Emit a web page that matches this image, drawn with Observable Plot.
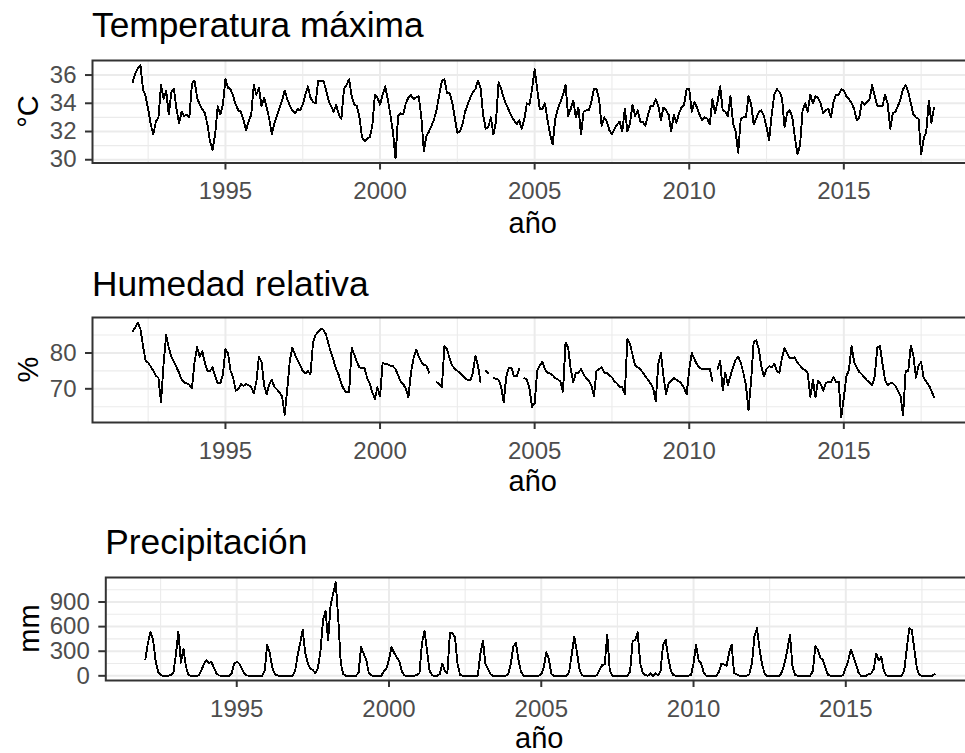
<!DOCTYPE html>
<html>
<head>
<meta charset="utf-8">
<script src="https://cdn.jsdelivr.net/npm/d3@7"></script>
<script src="https://cdn.jsdelivr.net/npm/@observablehq/plot@0.6"></script>
<style>
  html, body { margin: 0; padding: 0; background: #fff; overflow: hidden; }
  #root { position: relative; width: 965px; height: 753px; overflow: hidden; background: #fff; }
  #root svg { position: absolute; left: 0; max-width: none !important; }
</style>
</head>
<body>
<div id="root"></div>
<script>
// ---------------- data (monthly, Jan 1992 – Dec 2017) ----------------
const startYear = 1992;

const tempMax = [
  35.5, 36.1, 36.5, 36.7, 35.0, 34.5, 33.6, 32.5, 31.8, 32.7, 33.0, 35.3, // 1992
  34.3, 34.9, 33.2, 34.8, 35.0, 33.6, 32.6, 33.4, 33.1, 33.2, 33.0, 35.4, // 1993
  35.6, 34.4, 33.9, 33.6, 33.3, 32.5, 31.3, 30.7, 31.8, 33.8, 33.2, 33.9, // 1994
  35.7, 35.1, 35.0, 34.5, 33.9, 33.5, 33.4, 32.8, 32.1, 32.7, 33.2, 35.3, // 1995
  34.6, 35.1, 33.8, 34.4, 33.7, 32.9, 31.8, 32.6, 33.1, 33.7, 34.2, 34.9, // 1996
  34.3, 33.8, 33.5, 33.3, 33.6, 33.5, 33.9, 34.6, 35.2, 34.4, 34.1, 34.0, // 1997
  35.6, 35.6, 35.6, 35.0, 34.2, 33.8, 33.4, 33.9, 33.2, 32.9, 35.0, 35.3, // 1998
  35.7, 34.5, 33.9, 33.8, 33.0, 31.6, 31.3, 31.5, 31.6, 32.4, 34.6, 34.4, // 1999
  33.9, 34.6, 35.2, 34.3, 33.2, 32.0, 30.1, 33.1, 33.3, 33.2, 34.0, 34.4, // 2000
  34.6, 34.3, 34.4, 34.5, 33.1, 30.6, 31.7, 32.0, 32.4, 32.9, 33.6, 34.6, // 2001
  35.6, 35.7, 34.7, 34.7, 34.1, 33.0, 31.9, 32.0, 32.5, 33.4, 33.9, 34.4, // 2002
  34.8, 35.0, 35.6, 35.1, 33.2, 32.2, 32.3, 33.0, 31.8, 32.7, 35.5, 35.0, // 2003
  34.4, 33.9, 33.5, 33.1, 32.8, 32.5, 32.8, 32.2, 32.9, 34.0, 33.9, 35.0, // 2004
  36.4, 35.0, 33.6, 33.6, 34.0, 32.8, 31.8, 31.1, 32.9, 33.6, 34.1, 34.6, // 2005
  35.3, 33.1, 33.6, 34.2, 33.0, 33.7, 31.8, 33.4, 33.5, 33.5, 34.1, 35.0, // 2006
  35.0, 34.3, 32.4, 33.0, 32.7, 32.1, 31.8, 32.2, 32.5, 32.7, 32.0, 33.6, // 2007
  32.0, 32.6, 33.9, 33.1, 33.5, 32.7, 32.7, 32.4, 33.2, 33.8, 33.8, 34.3, // 2008
  33.8, 32.8, 33.7, 33.5, 33.2, 32.0, 33.2, 32.6, 33.3, 33.7, 33.9, 35.0, // 2009
  35.0, 33.4, 34.1, 33.7, 33.2, 32.8, 33.0, 32.9, 32.5, 34.3, 33.3, 34.1, // 2010
  35.2, 33.5, 33.4, 33.1, 34.5, 32.6, 32.0, 30.5, 32.9, 33.0, 33.0, 34.5, // 2011
  34.0, 32.5, 32.9, 33.4, 33.5, 33.1, 32.3, 31.4, 33.2, 34.6, 35.0, 34.8, // 2012
  34.4, 32.3, 33.3, 33.5, 33.0, 31.6, 30.4, 31.0, 33.5, 34.0, 33.4, 34.6, // 2013
  34.0, 34.5, 34.4, 34.0, 33.3, 33.5, 33.6, 33.0, 34.1, 34.6, 34.6, 35.0, // 2014
  34.9, 34.5, 34.3, 34.0, 33.6, 32.8, 33.0, 34.1, 33.9, 34.1, 34.3, 35.3, // 2015
  34.5, 33.8, 33.8, 33.8, 34.6, 34.0, 32.2, 33.3, 33.4, 33.8, 34.3, 35.0, // 2016
  35.3, 34.8, 34.0, 33.2, 33.0, 32.9, 30.4, 31.5, 32.0, 34.2, 32.6, 33.7  // 2017
];

const humedad = [
  86.1, 87.2, 88.5, 86.7, 82.0, 77.8, 77.3, 76.2, 75.0, 73.7, 73.0, 66.2, // 1992
  77.0, 85.0, 81.5, 79.0, 77.5, 76.0, 74.5, 72.5, 71.8, 71.5, 71.1, 70.2, // 1993
  77.5, 81.6, 79.0, 80.5, 77.3, 75.0, 75.0, 76.0, 73.5, 71.5, 71.5, 74.0, // 1994
  81.0, 80.0, 75.0, 73.0, 69.5, 70.0, 71.3, 70.8, 71.3, 71.0, 70.5, 68.8, // 1995
  72.0, 79.0, 77.5, 71.0, 68.5, 71.3, 72.5, 70.5, 69.8, 69.0, 67.8, 62.8, // 1996
  70.0, 78.0, 81.5, 79.5, 78.0, 76.5, 75.0, 74.3, 75.0, 74.0, 83.0, 85.0, // 1997
  86.0, 86.7, 86.5, 85.2, 82.5, 80.0, 77.8, 75.5, 73.8, 71.3, 69.8, 69.0, // 1998
  69.0, 81.5, 79.5, 77.5, 76.0, 75.8, 75.8, 73.0, 71.5, 69.0, 67.2, 70.4, // 1999
  67.8, 77.3, 76.8, 76.8, 76.5, 76.3, 75.5, 73.8, 72.0, 71.3, 70.0, 67.6, // 2000
  74.5, 78.5, 81.0, 79.0, 77.5, 76.6, 76.5, 74.5, null, null, 71.8, 71.3, // 2001
  70.4, 82.0, 81.0, 78.5, 76.5, 75.6, 75.0, 74.4, 73.8, 73.0, 72.5, 72.3, // 2002
  74.5, 79.2, 76.5, 71.8, null, 75.0, 74.3, null, 73.0, 72.8, 72.5, 70.5, // 2003
  66.3, 73.5, 75.8, 75.8, 73.5, 73.5, 75.5, null, 73.0, 72.6, 70.0, 65.0, // 2004
  66.0, 75.0, 76.5, 77.6, 75.5, 74.5, 74.3, 73.8, 73.0, 72.6, 72.0, 69.2, // 2005
  82.9, 81.5, 75.5, 71.8, 74.5, 74.5, 75.5, 74.0, 73.0, 72.3, 71.0, 68.0, // 2006
  75.0, 75.5, 76.0, 74.5, 74.5, 73.8, 73.2, 72.0, 71.5, 70.5, 70.5, 68.5, // 2007
  83.8, 82.5, 79.5, 76.5, 76.0, 75.5, 74.5, 73.5, 72.5, 71.5, 70.2, 66.5, // 2008
  77.0, 80.0, 73.5, 68.5, 71.5, 72.3, 73.0, 72.5, 72.1, 71.4, 70.2, 68.4, // 2009
  75.5, 80.0, 78.3, 76.8, 75.8, 75.6, 75.6, 75.6, 75.6, 72.2, null, 75.6, // 2010
  77.8, 69.5, 74.5, 71.0, 73.6, 76.0, 78.0, 79.0, 77.3, 74.5, 71.0, 64.0, // 2011
  72.0, 83.0, 83.5, 81.0, 76.2, 73.5, 75.5, 76.3, 76.0, 77.0, 75.0, 74.5, // 2012
  78.7, 81.4, 80.0, 78.5, 78.6, 78.8, 77.3, 76.5, 75.5, 75.3, 74.3, 67.8, // 2013
  72.5, 67.6, 72.3, 71.3, 69.5, 71.6, 72.0, 71.8, 73.3, 71.8, 72.0, 62.0, // 2014
  67.5, 73.5, 75.3, 82.0, 77.5, 76.0, 74.7, 74.0, 73.2, 72.3, 71.8, 71.0, // 2015
  73.5, 81.5, 82.0, 77.0, 72.5, 71.0, 71.5, 71.5, 70.8, 69.5, 68.0, 62.5, // 2016
  75.0, 75.0, 82.0, 79.3, 73.1, 76.5, 77.5, 73.0, 72.0, 71.0, 69.5, 67.6  // 2017
];

const precipitacion = [
  200, 400, 530, 450, 190,  50,  10,   0,   0,   0,  10,  30, // 1992
  250, 540, 160, 330, 110,  10,   0,   0,   0,   5,  60, 140, // 1993
  190, 155, 170, 100,  30,   5,   0,   0,   0,   0,  30, 150, // 1994
  170, 150,  90,  30,   5,   0,   0,   0,   0,   0,   0,  60, // 1995
  380, 280, 100,  20,   5,   0,   0,   0,   0,   0,   0,  60, // 1996
  250, 400, 560, 280, 150,  90,  70,  30, 100, 300, 680, 790, // 1997
  430, 870,1000,1140, 700, 150,  20,   0,   0,   0,   0,   0, // 1998
   40, 350, 270, 200,  40,   5,   0,   0,   0,   0,  60,  90, // 1999
  200, 350, 280, 230, 180,  60,   5,   0,   0,   0,   0,  10, // 2000
   30, 400, 550, 300,  60,   5,   0,   0,  20, 150,  60,  30, // 2001
  520, 520, 470, 150,  10,   0,   0,   0,   0,   0,   0,   0, // 2002
  270, 430, 150,  80,  20,   0,   0,   0,   0,   0,   0,  20, // 2003
  150, 360, 400, 200,  50,   0,   0,   0,   0,   0,   0,   0, // 2004
   20, 100, 290, 200,  20,   0,   0,   0,   0,   0,   0,  50, // 2005
  260, 480, 300,  90,   5,   0,   0,   0,   0,   0,  10,  70, // 2006
  130, 140, 500,  60,   0,   0,   0,   0,   0,   0,   0,  50, // 2007
  420, 440, 530, 150,  40,  10,   0,  30,   0,  30,   5,  60, // 2008
  380, 440, 230,  70,  10,   0,   0,   0,   0,   0,   0,  10, // 2009
  150, 380, 190, 150,  40,   0,   0,   0,   0,   0,  50, 150, // 2010
  140, 120, 280, 380,  30,  20,   0,   0,   0,   0,  20, 150, // 2011
  480, 580, 330, 140,  30,   0,   0,   0,   0,   0,   0,  60, // 2012
  170, 320, 500, 120,  10,   0,   0,   0,   0,   0,   0,  60, // 2013
  360, 320, 220, 190, 100,  10,   0,   0,   0,   0,   0,  10, // 2014
  100, 190, 320, 230, 140,  40,   0,   0,   0,  20,  30,  80, // 2015
  270, 190, 230,  60,   5,   0,   0,   0,   0,   0,   0,  60, // 2016
  320, 580, 560, 330,  90,  10,   0,   0,   0,   0,   0,  20  // 2017
];

// tick values / labels
const xTicks = [1995, 2000, 2005, 2010, 2015];
const xMinor = [1992.5, 1997.5, 2002.5, 2007.5, 2012.5, 2017.5];
const tempTicks = [30, 32, 34, 36];
const tempMinor = [31, 33, 35];
const humTicks = [70, 80];
const humMinor = [65, 75, 85];
const precTicks = [0, 300, 600, 900];
const precMinor = [150, 450, 750, 1050];

const panelTitles = ["Temperatura máxima", "Humedad relativa", "Precipitación"];
const yTitles = ["°C", "%", "mm"];
const xTitle = "año";

// ---------------- drawing ----------------
const FONT = '"Liberation Sans", Arial, Helvetica, sans-serif';
const root = document.getElementById("root");
const toRows = values => values.map((v, i) => ({t: startYear + i / 12, v}));

function panel(cfg) {
  const grid = (w) => ({stroke: "#EBEBEB", strokeOpacity: 1, strokeWidth: w});
  const axisStyle = {
    tickSize: 7, stroke: "#333333", strokeWidth: 2, fill: "#4D4D4D",
    fontSize: 24, tickFormat: d => String(d), label: null
  };
  const svg = Plot.plot({
    width: 976,
    height: cfg.height,
    marginLeft: cfg.marginLeft,
    marginRight: 2.5,
    marginTop: cfg.marginTop,
    marginBottom: cfg.marginBottom,
    style: {fontFamily: FONT, background: "transparent", maxWidth: "none", overflow: "visible"},
    x: {domain: [1990.70, 2019.21]},
    y: {domain: cfg.yDomain},
    marks: [
      Plot.gridX(xMinor, grid(1.1)),
      Plot.gridY(cfg.yMinor, grid(1.1)),
      Plot.gridX(xTicks, grid(2)),
      Plot.gridY(cfg.yTicks, grid(2)),
      Plot.line(toRows(cfg.values), {x: "t", y: "v", stroke: "#000", strokeWidth: 1.9,
                                     shapeRendering: "crispEdges"}),
      Plot.frame({stroke: "#333333", strokeWidth: 2}),
      Plot.axisX(xTicks, {...axisStyle, tickPadding: 12}),
      Plot.axisY(cfg.yTicks, {...axisStyle, tickPadding: 9})
    ]
  });
  svg.style.top = cfg.top + "px";
  svg.style.position = "absolute";
  root.append(svg);
}

panel({values: tempMax, yDomain: [29.77, 37.03], yTicks: tempTicks, yMinor: tempMinor,
       top: 45, height: 198, marginLeft: 92, marginTop: 15, marginBottom: 80.5});
panel({values: humedad, yDomain: [60.6, 89.9], yTicks: humTicks, yMinor: humMinor,
       top: 300, height: 198, marginLeft: 92, marginTop: 17, marginBottom: 76});
panel({values: precipitacion, yDomain: [-57, 1199], yTicks: precTicks, yMinor: precMinor,
       top: 560, height: 193, marginLeft: 105.3, marginTop: 17, marginBottom: 73});

// titles and axis titles
const ov = d3.select(root).append("svg")
  .attr("width", 965).attr("height", 753)
  .style("position", "absolute").style("top", "0px").style("left", "0px")
  .style("pointer-events", "none")
  .attr("font-family", FONT);

const titlePos = [{x: 92, y: 37.3}, {x: 92, y: 295.5}, {x: 105.3, y: 554}];
const yTitlePos = [{x: 38, y: 111.5}, {x: 38.3, y: 369.5}, {x: 39, y: 628.5}];
const xTitlePos = [{x: 532.7, y: 233.3}, {x: 532.7, y: 490.5}, {x: 539.2, y: 748.3}];

panelTitles.forEach((s, i) => {
  ov.append("text").attr("x", titlePos[i].x).attr("y", titlePos[i].y)
    .attr("font-size", 35.3).attr("fill", "#000").text(s);
  ov.append("text")
    .attr("transform", `translate(${yTitlePos[i].x},${yTitlePos[i].y}) rotate(-90)`)
    .attr("text-anchor", "middle").attr("font-size", 29).attr("fill", "#000").text(yTitles[i]);
  ov.append("text").attr("x", xTitlePos[i].x).attr("y", xTitlePos[i].y)
    .attr("text-anchor", "middle").attr("font-size", 29).attr("fill", "#000").text(xTitle);
});
</script>
</body>
</html>
